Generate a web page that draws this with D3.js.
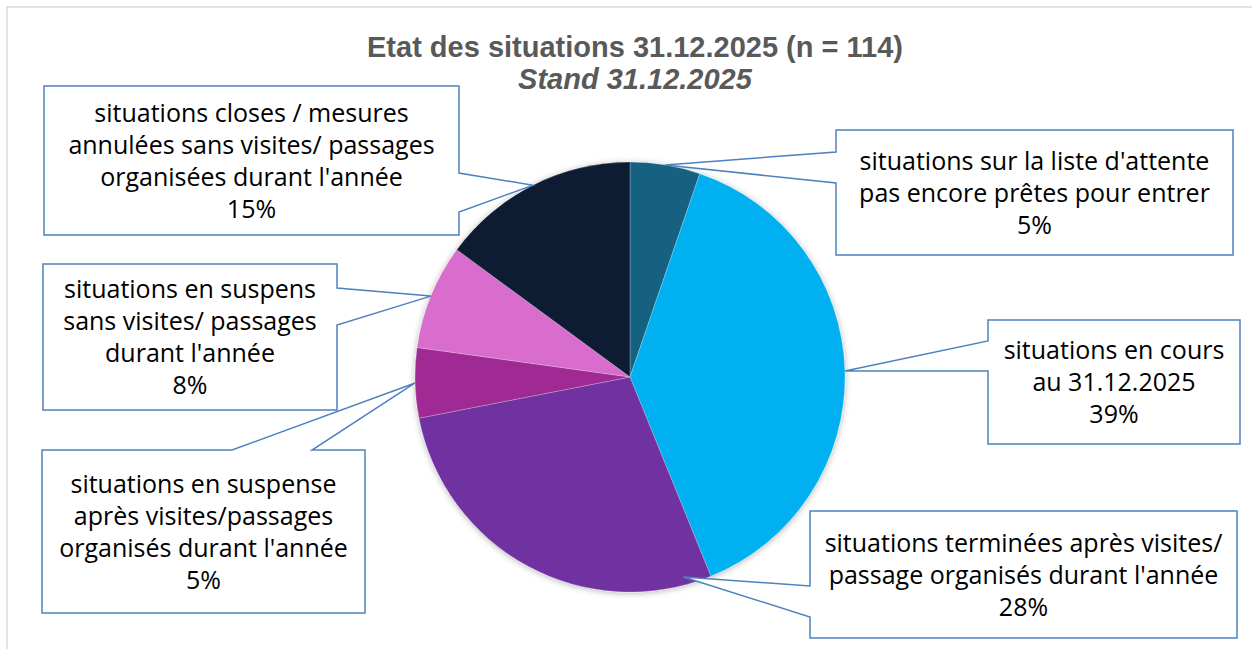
<!DOCTYPE html>
<html>
<head>
<meta charset="utf-8">
<script src="https://cdn.jsdelivr.net/npm/d3@7"></script>
<style>
  body { margin: 0; background: #fff; }
  svg { display: block; }
</style>
</head>
<body>
<svg id="chart" width="1252" height="649"></svg>
<script>
// data
const categories = [
  ["situations sur la liste d'attente", "pas encore prêtes pour entrer"],
  ["situations en cours", "au 31.12.2025"],
  ["situations terminées après visites/", "passage organisés durant l'année"],
  ["situations en suspense", "après visites/passages", "organisés durant l'année"],
  ["situations en suspens", "sans visites/ passages", "durant l'année"],
  ["situations closes / mesures", "annulées sans visites/ passages", "organisées durant l'année"]
];
const counts = [6, 44, 32, 6, 9, 17];
const colors = ["#156082", "#00b0f0", "#7030a0", "#a02b93", "#d86dcd", "#0e1f33"];
const titleText = "Etat des situations 31.12.2025 (n = 114)";
const subtitleText = "Stand 31.12.2025";

// callout boxes (layout only)
const callouts = [
  { x: 836, y: 130, w: 397, h: 125, side: "left", a: 152, b: 183 },
  { x: 988, y: 320, w: 252, h: 124, side: "left", a: 341, b: 371 },
  { x: 810, y: 511, w: 427, h: 127, side: "left", a: 586, b: 617, angle: 165, r: 207 },
  { x: 42, y: 450, w: 323, h: 163, side: "top", a: 232, b: 312 },
  { x: 43, y: 264, w: 294, h: 146, side: "right", a: 288, b: 325 },
  { x: 44, y: 86, w: 415, h: 149, side: "right", a: 173, b: 212 }
];

const width = 1252;
const height = 649;
const cx = 630;
const cy = 377;
const radius = 215;
const total = d3.sum(counts);
const lineColor = "#4f81bd";
const lineHeight = 32;

const svg = d3.select("#chart");

// outer frame
svg.append("rect")
  .attr("x", 7)
  .attr("y", 7)
  .attr("width", width)
  .attr("height", height)
  .attr("fill", "#fff")
  .attr("stroke", "#d9d9d9")
  .attr("stroke-width", 1.5);

const defs = svg.append("defs");
defs.append("filter")
  .attr("id", "shadow")
  .attr("x", "-10%").attr("y", "-10%")
  .attr("width", "120%").attr("height", "120%")
  .append("feDropShadow")
  .attr("dx", 0)
  .attr("dy", 1)
  .attr("stdDeviation", 3)
  .attr("flood-color", "#000")
  .attr("flood-opacity", 0.3);

// title
svg.append("text")
  .attr("x", 635)
  .attr("y", 57)
  .attr("text-anchor", "middle")
  .style("font-family", "'Liberation Sans', Arial, sans-serif")
  .style("font-size", "29px")
  .style("font-weight", 700)
  .style("fill", "#595959")
  .text(titleText);

svg.append("text")
  .attr("x", 635)
  .attr("y", 89)
  .attr("text-anchor", "middle")
  .style("font-family", "'Liberation Sans', Arial, sans-serif")
  .style("font-size", "29px")
  .style("font-weight", 700)
  .style("font-style", "italic")
  .style("fill", "#595959")
  .text(subtitleText);

// pie
const pie = d3.pie().sort(null).value((d) => d);
const arcs = pie(counts);
const arc = d3.arc().innerRadius(0).outerRadius(radius);

const pieGroup = svg.append("g")
  .attr("transform", `translate(${cx}, ${cy})`)
  .attr("filter", "url(#shadow)");

pieGroup.selectAll("path")
  .data(arcs)
  .join("path")
  .attr("d", arc)
  .attr("fill", (d, i) => colors[i])
  .attr("stroke", "#ffffff")
  .attr("stroke-opacity", 0.4)
  .attr("stroke-width", 0.6);

// callout shape: rectangle with a wedge pointing to the slice
const calloutPath = (c, tip) => {
  const p = d3.path();
  const { x, y, w, h, side, a, b } = c;
  p.moveTo(x, y);
  if (side === "top") {
    p.lineTo(a, y);
    p.lineTo(tip[0], tip[1]);
    p.lineTo(b, y);
  }
  p.lineTo(x + w, y);
  if (side === "right") {
    p.lineTo(x + w, a);
    p.lineTo(tip[0], tip[1]);
    p.lineTo(x + w, b);
  }
  p.lineTo(x + w, y + h);
  p.lineTo(x, y + h);
  if (side === "left") {
    p.lineTo(x, b);
    p.lineTo(tip[0], tip[1]);
    p.lineTo(x, a);
  }
  p.closePath();
  return p.toString();
};

const labels = svg.append("g").attr("class", "callouts");

arcs.forEach((d, i) => {
  const c = callouts[i];
  const angle = c.angle !== undefined ? (c.angle * Math.PI) / 180 : (d.startAngle + d.endAngle) / 2;
  const pt = d3.pointRadial(angle, c.r || radius);
  const tip = [cx + pt[0], cy + pt[1]];

  labels.append("path")
    .attr("d", calloutPath(c, tip))
    .attr("fill", "#ffffff")
    .attr("stroke", lineColor)
    .attr("stroke-width", 1.5)
    .attr("stroke-linejoin", "miter");

  const lines = categories[i].concat([d3.format(".0%")(d.value / total)]);
  const firstY = c.y + c.h / 2 - ((lines.length - 1) * lineHeight) / 2 - 1;
  const text = labels.append("text")
    .attr("text-anchor", "middle")
    .attr("dominant-baseline", "central")
    .style("font-family", "'Open Sans', 'Noto Sans', sans-serif")
    .style("font-size", "25px")
    .style("fill", "#000000");
  lines.forEach((line, j) => {
    text.append("tspan")
      .attr("x", c.x + c.w / 2)
      .attr("y", firstY + j * lineHeight)
      .text(line);
  });
});
</script>
</body>
</html>
